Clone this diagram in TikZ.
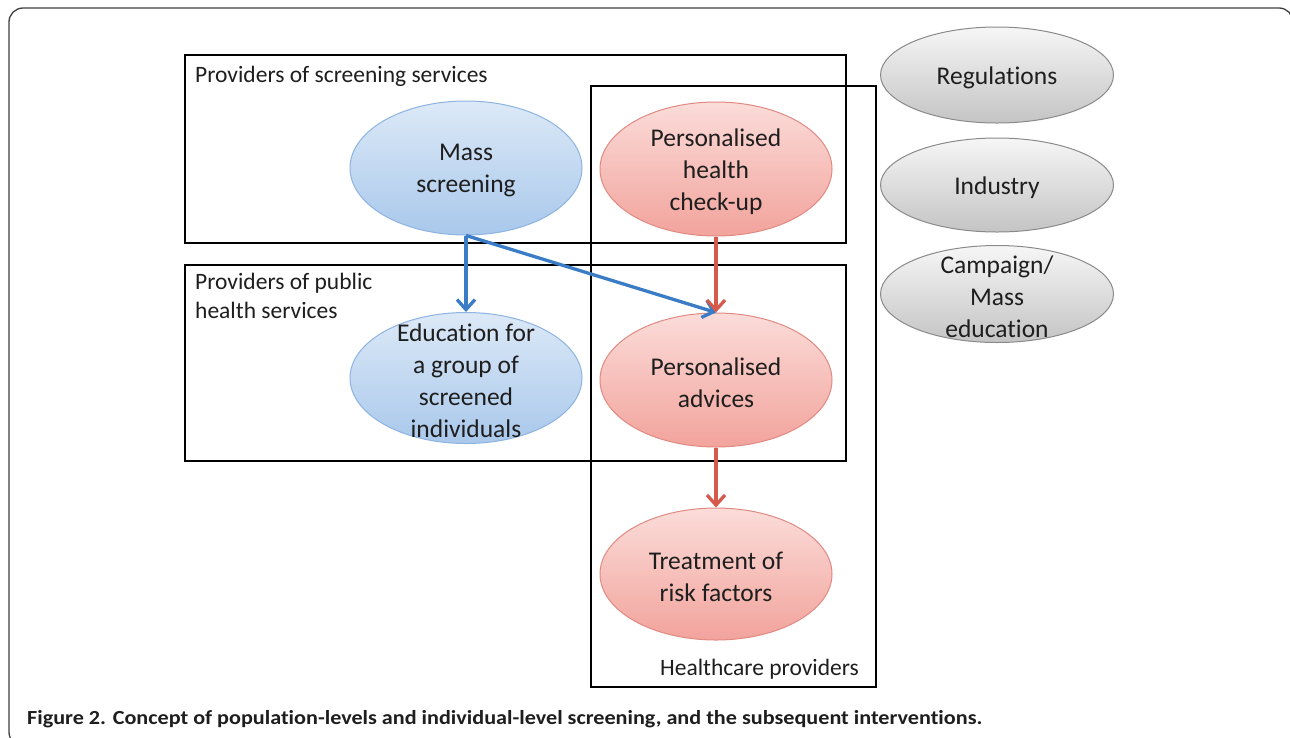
\documentclass[tikz,border=0pt]{standalone}
\usepackage{fontspec}
\setmainfont{Carlito}[Ligatures=NoCommon]
\usetikzlibrary{shapes.geometric,arrows.meta}
\definecolor{bluefillT}{HTML}{DCE9F7}
\definecolor{bluefillB}{HTML}{A9C8EB}
\definecolor{blueline}{HTML}{8DB3E2}
\definecolor{redfillT}{HTML}{FBDCD9}
\definecolor{redfillB}{HTML}{F2A39C}
\definecolor{redline}{HTML}{E08A82}
\definecolor{grayfillT}{HTML}{F6F6F6}
\definecolor{grayfillB}{HTML}{C4C4C4}
\definecolor{grayline}{HTML}{8A8A8A}
\definecolor{bluearr}{HTML}{3A7DC6}
\definecolor{redarr}{HTML}{D65A4C}
\definecolor{txt}{HTML}{1E1E1E}
\tikzset{
  ell/.style={ellipse, minimum width=232pt, inner sep=0pt, line width=1pt},
  elltext/.style={inner sep=0pt, align=center, text=txt, font=\fontsize{25.5pt}{32pt}\selectfont},
  blueell/.style={ell, draw=blueline, top color=bluefillT, bottom color=bluefillB, minimum height=134pt},
  redell/.style={ell, draw=redline, top color=redfillT, bottom color=redfillB, minimum height=134pt},
  grayell/.style={ell, draw=grayline, top color=grayfillT, bottom color=grayfillB, minimum width=233pt, minimum height=96pt},
  grpbox/.style={draw=black, line width=2pt},
  grplabel/.style={inner sep=0pt, align=left, text=txt, font=\fontsize{23.5pt}{29pt}\selectfont},
  barr/.style={draw=bluearr, line width=3.3pt, -{Straight Barb[length=10pt,width=18pt,line width=3.3pt]}},
  rarr/.style={draw=redarr, line width=3.3pt, -{Straight Barb[length=10pt,width=18pt,line width=3.3pt]}},
}
\begin{document}
\begin{tikzpicture}[x=1pt,y=-1pt]
\useasboundingbox (0,0) rectangle (1290,737);
\clip (0,0) rectangle (1290,737);
\fill[white] (0,0) rectangle (1290,737);
\draw[rounded corners=14pt, line width=1.3pt, black!75] (9,8) rectangle (1293,746);

% group boxes
\draw[grpbox] (185,55) rectangle (846,243);
\draw[grpbox] (185,265) rectangle (846,461);
\draw[grpbox] (591,86) rectangle (876,687);

\node[grplabel, anchor=west] (lscreen) at (195,76) {Providers of screening services};
\node[grplabel, anchor=north west] (lpublic) at (195,273) {Providers of public\\health services};
\node[grplabel, anchor=east] (lhealth) at (859,669) {Healthcare providers};

% ellipses
\node[blueell] (mass) at (466,168) {};
\node[elltext] (masst) at (466,171) {Mass\\screening};
\node[redell] (check) at (716,169) {};
\node[elltext] (checkt) at (716,172) {Personalised\\health\\check-up};
\node[blueell, minimum height=131pt] (edu) at (466,378) {};
\node[elltext] (edut) at (466,381) {Education for\\a group of\\screened\\individuals};
\node[redell] (adv) at (716,380) {};
\node[elltext] (advt) at (716,383) {Personalised\\advices};
\node[redell, minimum height=132pt] (treat) at (716,574) {};
\node[elltext] (treatt) at (716,577) {Treatment of\\risk factors};

\node[grayell] (reg) at (997,75) {};
\node[elltext] (regt) at (997,78) {Regulations};
\node[grayell, minimum height=94pt] (ind) at (997,185) {};
\node[elltext] (indt) at (997,188) {Industry};
\node[grayell, minimum height=97pt] (camp) at (997,294) {};
\node[elltext] (campt) at (997,297) {Campaign/\\Mass\\education};

% arrows
\draw[barr] (mass.south) -- (edu.north);
\draw[barr] (mass.south) -- (adv.north);
\draw[rarr] (check.south) -- (adv.north);
\draw[rarr] (adv.south) -- (treat.north);

% caption
\node[anchor=west, inner sep=0pt, text=txt] (cap) at (27,719)
  {\resizebox{955pt}{\height}{\fontsize{20pt}{22pt}\selectfont\bfseries Figure 2. Concept of population-levels and individual-level screening, and the subsequent interventions.}};
\end{tikzpicture}
\end{document}
